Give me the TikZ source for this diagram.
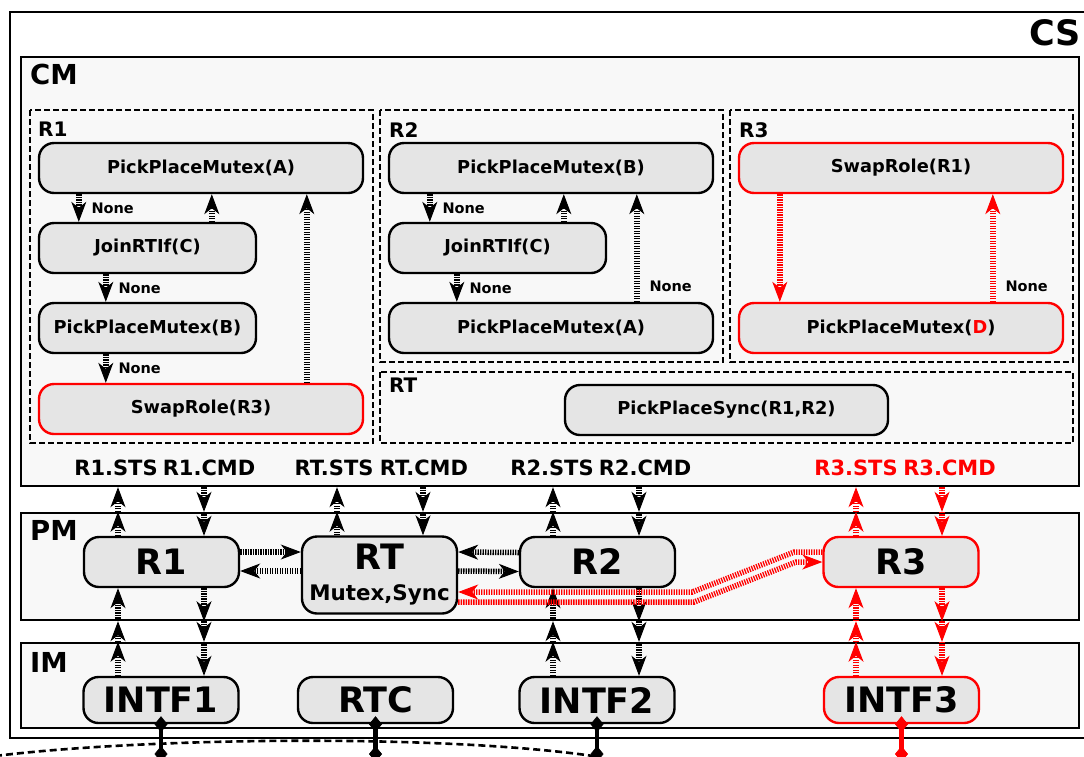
\documentclass[tikz,border=0pt]{standalone}
\usepackage{fontspec}
\setmainfont{DejaVu Sans}
\usetikzlibrary{arrows.meta}

\definecolor{layergray}{HTML}{F8F8F8}
\definecolor{taskgray}{HTML}{E5E5E5}

\tikzset{
  layer/.style={draw, line width=2.4pt, fill=layergray, inner sep=0pt},
  layertag/.style={anchor=north west, inner sep=0pt, font=\bfseries\fontsize{27.5}{30}\selectfont},
  region/.style={line width=2pt, dash pattern=on 6pt off 3pt},
  regiontag/.style={anchor=north west, inner sep=0pt, font=\bfseries\fontsize{20}{22}\selectfont},
  task/.style={draw, line width=2.4pt, fill=taskgray, rounded corners=15pt,
    minimum height=50pt, inner sep=0pt, font=\bfseries\fontsize{17.8}{20}\selectfont},
  unit/.style={task, minimum width=155pt, font=\bfseries\fontsize{35}{38}\selectfont},
  redline/.style={draw=red},
  port/.style={inner sep=0pt, font=\bfseries\fontsize{21}{23}\selectfont},
  guard/.style={anchor=west, inner sep=2pt, font=\bfseries\fontsize{14.5}{16}\selectfont},
  flow/.style={->, line width=5.5pt, dash pattern=on 1.3pt off 1.2pt},
  bus/.style={{Diamond[length=16pt,width=13pt,line width=0.6pt]}-{Diamond[length=16pt,width=13pt,line width=0.6pt]},
    line width=4.5pt, shorten <=-8pt, shorten >=-8pt},
}

\begin{document}
\begin{tikzpicture}[x=1pt,y=-1pt,>={Stealth[length=20pt,width=15pt,inset=6pt,line width=1pt]}]
  \useasboundingbox (0,0) rectangle (1084,756);
  % Outer frame (right edge runs off the page).
  \node[draw, line width=2.6pt, fill=white, minimum width=1082pt, minimum height=726pt] (cs) at (551,375) {};
  \node[anchor=east, inner sep=0pt, font=\bfseries\fontsize{35}{37}\selectfont] (cstag) at (1081,33) {CS};

  % Bus below the interfaces.
  \draw[line width=2.6pt, dash pattern=on 7pt off 4pt] (-5,756) .. controls (150,737) and (450,734) .. (600,757);
  \coordinate (floor) at (0,754);

  % The three layers.
  \node[layer, minimum width=1058pt, minimum height=429pt] (cm) at (550,271.5) {};
  \node[layer, minimum width=1058pt, minimum height=107pt] (pm) at (550,566.5) {};
  \node[layer, minimum width=1058pt, minimum height=85pt] (im) at (550,685.5) {};
  \node[layertag] (cmtag) at (30,64) {CM};
  \node[layertag] (pmtag) at (30,520) {PM};
  \node[layertag] (imtag) at (30,652) {IM};

  % Dashed regions inside CM.
  \draw[region] (30,110) rectangle (373,443);
  \draw[region] (380,110) rectangle (723,362);
  \draw[region] (730,110) rectangle (1073,362);
  \draw[region] (380,372) rectangle (1073,443);
  \node[regiontag] (r1tag) at (38,122) {R1};
  \node[regiontag] (r2tag) at (389,122) {R2};
  \node[regiontag] (r3tag) at (739,122) {R3};
  \node[regiontag] (rttag) at (389,378) {RT};

  % R1 tasks.
  \node[task, minimum width=324pt] (r1top) at (201,168) {PickPlaceMutex(A)};
  \node[task, minimum width=217pt] (r1join) at (147.5,248) {JoinRTIf(C)};
  \node[task, minimum width=217pt] (r1mid) at (147.5,328) {PickPlaceMutex(B)};
  \node[task, redline, minimum width=324pt] (r1swap) at (201,409) {SwapRole(R3)};
  \draw[flow] ([xshift=41pt]r1top.south west) -- ([xshift=41pt]r1join.north west) node[guard, midway, xshift=8pt] {None};
  \draw[flow] ([xshift=174pt]r1join.north west) -- ([xshift=174pt]r1top.south west);
  \draw[flow] ([xshift=68pt]r1join.south west) -- ([xshift=68pt]r1mid.north west) node[guard, midway, xshift=8pt] {None};
  \draw[flow] ([xshift=68pt]r1mid.south west) -- ([xshift=68pt]r1swap.north west) node[guard, midway, xshift=8pt] {None};
  \draw[flow] ([xshift=269pt]r1swap.north west) -- ([xshift=269pt]r1top.south west);

  % R2 tasks.
  \node[task, minimum width=324pt] (r2top) at (551,168) {PickPlaceMutex(B)};
  \node[task, minimum width=217pt] (r2join) at (497.5,248) {JoinRTIf(C)};
  \node[task, minimum width=324pt] (r2bot) at (551,328) {PickPlaceMutex(A)};
  \draw[flow] ([xshift=42pt]r2top.south west) -- ([xshift=42pt]r2join.north west) node[guard, midway, xshift=8pt] {None};
  \draw[flow] ([xshift=176pt]r2join.north west) -- ([xshift=176pt]r2top.south west);
  \draw[flow] ([xshift=69pt]r2join.south west) -- ([xshift=69pt]r2bot.north west) node[guard, midway, xshift=8pt] {None};
  \draw[flow] ([xshift=249pt]r2bot.north west) -- ([xshift=249pt]r2top.south west) node[guard, pos=0.14, xshift=8pt] {None};

  % R3 tasks.
  \node[task, redline, minimum width=324pt] (r3swap) at (901,168) {SwapRole(R1)};
  \node[task, redline, minimum width=324pt] (r3pick) at (901,328) {PickPlaceMutex(\textcolor{red}{D})};
  \draw[flow, red] ([xshift=42pt]r3swap.south west) -- ([xshift=42pt]r3pick.north west);
  \draw[flow, red] ([xshift=255pt]r3pick.north west) -- ([xshift=255pt]r3swap.south west) node[guard, black, pos=0.14, xshift=8pt] {None};

  % RT task.
  \node[task, minimum width=323pt] (rtsync) at (726.5,410) {PickPlaceSync(R1,R2)};

  % Status and command ports of CM.
  \node[port] (r1sts) at (116,468) {R1.STS};
  \node[port] (r1cmd) at (209,468) {R1.CMD};
  \node[port] (rtsts) at (334,468) {RT.STS};
  \node[port] (rtcmd) at (424,468) {RT.CMD};
  \node[port] (r2sts) at (552,468) {R2.STS};
  \node[port] (r2cmd) at (645,468) {R2.CMD};
  \node[port, red] (r3sts) at (856,468) {R3.STS};
  \node[port, red] (r3cmd) at (949.5,468) {R3.CMD};

  % PM units.
  \node[unit] (u1) at (161.5,562) {R1};
  \node[unit, minimum height=77pt, align=center] (urt) at (379.5,575) {RT\\[-7pt]{\fontsize{21.4}{23}\selectfont Mutex,Sync}};
  \node[unit] (u2) at (597.5,562) {R2};
  \node[unit, redline] (u3) at (901,562) {R3};

  % IM interfaces.
  \node[unit, minimum height=46pt] (intf1) at (161,700) {INTF1};
  \node[unit, minimum height=46pt] (rtc) at (375.5,700) {RTC};
  \node[unit, minimum height=46pt] (intf2) at (597,700) {INTF2};
  \node[unit, minimum height=46pt, redline] (intf3) at (901.5,700) {INTF3};

  % Columns of the links between layers.
  \coordinate (k1s) at (118,0);  \coordinate (k1c) at (204,0);
  \coordinate (krts) at (337,0); \coordinate (krtc) at (423,0);
  \coordinate (k2s) at (553,0);  \coordinate (k2c) at (639,0);
  \coordinate (k3s) at (856,0);  \coordinate (k3c) at (942,0);

  % PM <-> CM.
  \draw[flow] (u1.north -| k1s) -- (pm.north -| k1s);
  \draw[flow] (pm.north -| k1s) -- (cm.south -| k1s);
  \draw[flow] (cm.south -| k1c) -- (pm.north -| k1c);
  \draw[flow] (pm.north -| k1c) -- (u1.north -| k1c);
  \draw[flow] (urt.north -| krts) -- (pm.north -| krts);
  \draw[flow] (pm.north -| krts) -- (cm.south -| krts);
  \draw[flow] (cm.south -| krtc) -- (pm.north -| krtc);
  \draw[flow] (pm.north -| krtc) -- (urt.north -| krtc);
  \draw[flow] (u2.north -| k2s) -- (pm.north -| k2s);
  \draw[flow] (pm.north -| k2s) -- (cm.south -| k2s);
  \draw[flow] (cm.south -| k2c) -- (pm.north -| k2c);
  \draw[flow] (pm.north -| k2c) -- (u2.north -| k2c);
  \draw[flow, red] (u3.north -| k3s) -- (pm.north -| k3s);
  \draw[flow, red] (pm.north -| k3s) -- (cm.south -| k3s);
  \draw[flow, red] (cm.south -| k3c) -- (pm.north -| k3c);
  \draw[flow, red] (pm.north -| k3c) -- (u3.north -| k3c);

  % IM <-> PM.
  \draw[flow] (intf1.north -| k1s) -- (im.north -| k1s);
  \draw[flow] (im.north -| k1s) -- (pm.south -| k1s);
  \draw[flow] (pm.south -| k1s) -- (u1.south -| k1s);
  \draw[flow] (u1.south -| k1c) -- (pm.south -| k1c);
  \draw[flow] (pm.south -| k1c) -- (im.north -| k1c);
  \draw[flow] (im.north -| k1c) -- (intf1.north -| k1c);
  \draw[flow] (intf2.north -| k2s) -- (im.north -| k2s);
  \draw[flow] (im.north -| k2s) -- (pm.south -| k2s);
  \draw[flow] (pm.south -| k2s) -- (u2.south -| k2s);
  \draw[flow] (u2.south -| k2c) -- (pm.south -| k2c);
  \draw[flow] (pm.south -| k2c) -- (im.north -| k2c);
  \draw[flow] (im.north -| k2c) -- (intf2.north -| k2c);
  \draw[flow, red] (intf3.north -| k3s) -- (im.north -| k3s);
  \draw[flow, red] (im.north -| k3s) -- (pm.south -| k3s);
  \draw[flow, red] (pm.south -| k3s) -- (u3.south -| k3s);
  \draw[flow, red] (u3.south -| k3c) -- (pm.south -| k3c);
  \draw[flow, red] (pm.south -| k3c) -- (im.north -| k3c);
  \draw[flow, red] (im.north -| k3c) -- (intf3.north -| k3c);

  % Links inside PM.
  \draw[flow] ([yshift=10pt]u1.east) -- ([yshift=23pt]urt.west);
  \draw[flow] ([yshift=4pt]urt.west) -- ([yshift=-9pt]u1.east);
  \draw[flow] ([yshift=9.5pt]u2.west) -- ([yshift=23pt]urt.east);
  \draw[flow] ([yshift=4pt]urt.east) -- ([yshift=-9.5pt]u2.west);
  \draw[flow, red] ([yshift=10pt]u3.west) -- ++(-28,0) -- ++(-102,40) -- ([yshift=-17pt]urt.east);
  \draw[flow, red] ([yshift=-27pt]urt.east) -- ++(236,0) -- ++(102,-40) -- (u3.west);

  % Interfaces down to the bus.
  \draw[bus] (intf1.south) -- (intf1.south |- floor);
  \draw[bus] (rtc.south) -- (rtc.south |- floor);
  \draw[bus] (intf2.south) -- (intf2.south |- floor);
  \draw[bus, red] (intf3.south) -- (intf3.south |- floor);
\end{tikzpicture}
\end{document}
